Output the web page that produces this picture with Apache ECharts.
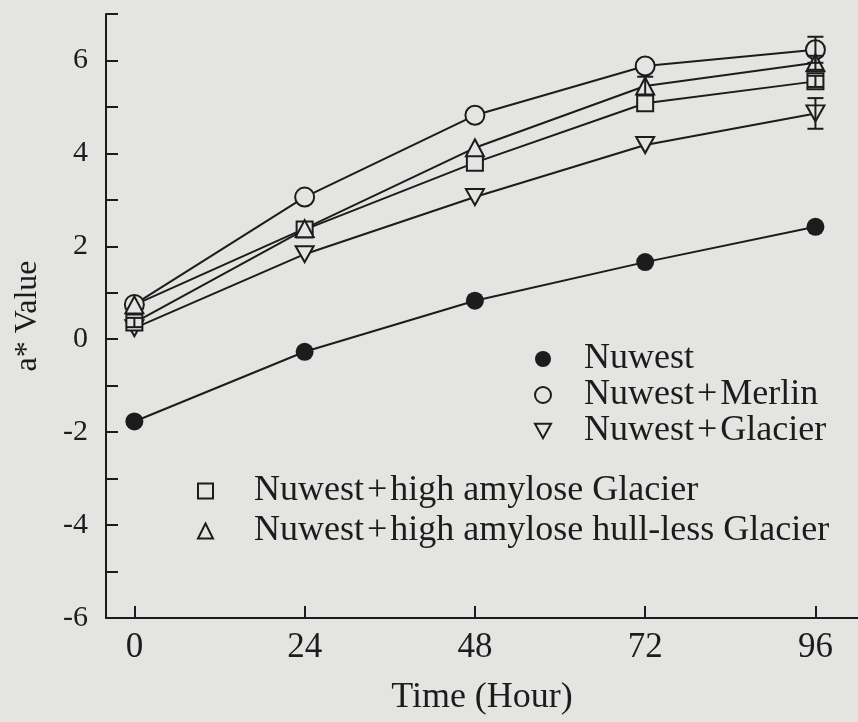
<!DOCTYPE html>
<html>
<head>
<meta charset="utf-8">
<script src="https://cdn.jsdelivr.net/npm/echarts@6/dist/echarts.min.js"></script>
<style>
  html, body { margin: 0; padding: 0; background: #e4e4e2; }
  #chart { width: 858px; height: 722px; }
</style>
</head>
<body>
<div id="chart"></div>
<script>
// ---- data ----
const timeHours = [0, 24, 48, 72, 96];
const xTicks = [0, 24, 48, 72, 96];
const seriesNames = [
  'Nuwest',
  'Nuwest\u200A+\u200AMerlin',
  'Nuwest\u200A+\u200AGlacier',
  'Nuwest\u200A+\u200Ahigh amylose Glacier',
  'Nuwest\u200A+\u200Ahigh amylose hull-less Glacier'
];
const nuwest        = [-1.77, -0.27, 0.83, 1.66, 2.42];
const merlin        = [0.75, 3.06, 4.82, 5.88, 6.23];
const glacier       = [0.24, 1.83, 3.06, 4.18, 4.86];
const haGlacier     = [0.36, 2.36, 3.80, 5.08, 5.55];
const haHullless    = [0.74, 2.38, 4.12, 5.45, 5.95];
const errNuwest     = [0, 0, 0, 0, 0];
const errMerlin     = [0, 0, 0, 0, 0.28];
const errGlacier    = [0, 0, 0, 0, 0.33];
const errHaGlacier  = [0.1, 0, 0, 0, 0.12];
const errHaHullless = [0, 0, 0, 0.2, 0.15];

const BG = '#e4e4e2';
const INK = '#1c1c1c';
const FONT = "'Liberation Serif', 'Times New Roman', serif";
const downTri = 'path://M0,0 L20,0 L10,18 Z';

const values = [nuwest, merlin, glacier, haGlacier, haHullless];
const errors = [errNuwest, errMerlin, errGlacier, errHaGlacier, errHaHullless];
const symbols = ['circle', 'circle', downTri, 'rect', 'triangle'];
const symbolSizes = [18, 19, [18, 16], 16, [18, 17]];
const filled = [true, false, false, false, false];

const lineSeries = values.map((vals, k) => ({
  name: seriesNames[k],
  type: 'line',
  data: timeHours.map((t, i) => [t, vals[i]]),
  symbol: symbols[k],
  symbolSize: symbolSizes[k],
  showAllSymbol: true,
  lineStyle: { color: INK, width: 2 },
  itemStyle: filled[k]
    ? { color: INK, borderColor: INK, borderWidth: 0 }
    : { color: BG, borderColor: INK, borderWidth: 2 },
  emphasis: { disabled: true },
  z: 3
}));

const errData = [];
values.forEach((vals, k) => {
  timeHours.forEach((t, i) => {
    if (errors[k][i] > 0) errData.push([t, vals[i], errors[k][i]]);
  });
});

const errSeries = {
  type: 'custom',
  data: errData,
  z: 4,
  silent: true,
  renderItem: function (params, api) {
    const x = api.value(0), y = api.value(1), e = api.value(2);
    const top = api.coord([x, y + e]);
    const bot = api.coord([x, y - e]);
    const hw = 8;
    const st = { stroke: INK, lineWidth: 2 };
    return {
      type: 'group',
      children: [
        { type: 'line', shape: { x1: top[0], y1: top[1], x2: bot[0], y2: bot[1] }, style: st },
        { type: 'line', shape: { x1: top[0] - hw, y1: top[1], x2: top[0] + hw, y2: top[1] }, style: st },
        { type: 'line', shape: { x1: bot[0] - hw, y1: bot[1], x2: bot[0] + hw, y2: bot[1] }, style: st }
      ]
    };
  }
};

const legendItem = (k, icon) => ({
  name: seriesNames[k],
  icon: icon,
  itemStyle: filled[k]
    ? { color: INK, borderWidth: 0 }
    : { color: BG, borderColor: INK, borderWidth: 2 }
});

const option = {
  backgroundColor: BG,
  animation: false,
  grid: { left: 106, right: -2, top: 14, bottom: 104, containLabel: false },
  xAxis: {
    type: 'value',
    min: -4,
    max: 102,
    name: 'Time (Hour)',
    nameLocation: 'middle',
    nameGap: 62,
    nameTextStyle: { fontFamily: FONT, fontSize: 36, color: INK },
    axisLine: { onZero: false, lineStyle: { color: INK, width: 2 } },
    axisTick: { inside: true, length: 12, customValues: xTicks, lineStyle: { color: INK, width: 2 } },
    axisLabel: { customValues: xTicks, fontFamily: FONT, fontSize: 35, color: INK, margin: 12 },
    splitLine: { show: false }
  },
  yAxis: {
    type: 'value',
    min: -6,
    max: 7,
    interval: 1,
    name: 'a* Value',
    nameLocation: 'middle',
    nameGap: 62,
    nameTextStyle: { fontFamily: FONT, fontSize: 32, color: INK },
    axisLine: { onZero: false, lineStyle: { color: INK, width: 2 } },
    axisTick: { inside: true, length: 12, lineStyle: { color: INK, width: 2 } },
    axisLabel: {
      fontFamily: FONT, fontSize: 30, color: INK, margin: 18,
      formatter: v => (v % 2 === 0 ? String(v) : '')
    },
    splitLine: { show: false }
  },
  legend: [
    {
      orient: 'vertical',
      left: 529,
      top: 336,
      itemWidth: 16,
      itemHeight: 16,
      itemGap: 0,
      selectedMode: false,
      textStyle: { fontFamily: FONT, fontSize: 36, color: INK, lineHeight: 35, padding: [0, 0, 0, 28] },
      data: [legendItem(0, 'circle'), legendItem(1, 'circle'), legendItem(2, downTri)]
    },
    {
      orient: 'vertical',
      left: 192,
      top: 467,
      itemWidth: 15,
      itemHeight: 15,
      itemGap: 2,
      selectedMode: false,
      textStyle: { fontFamily: FONT, fontSize: 36, color: INK, lineHeight: 38, padding: [0, 0, 0, 36] },
      data: [legendItem(3, 'rect'), legendItem(4, 'triangle')]
    }
  ],
  series: [...lineSeries, errSeries]
};

const chart = echarts.init(document.getElementById('chart'), null, { renderer: 'canvas' });
chart.setOption(option);
</script>
</body>
</html>
